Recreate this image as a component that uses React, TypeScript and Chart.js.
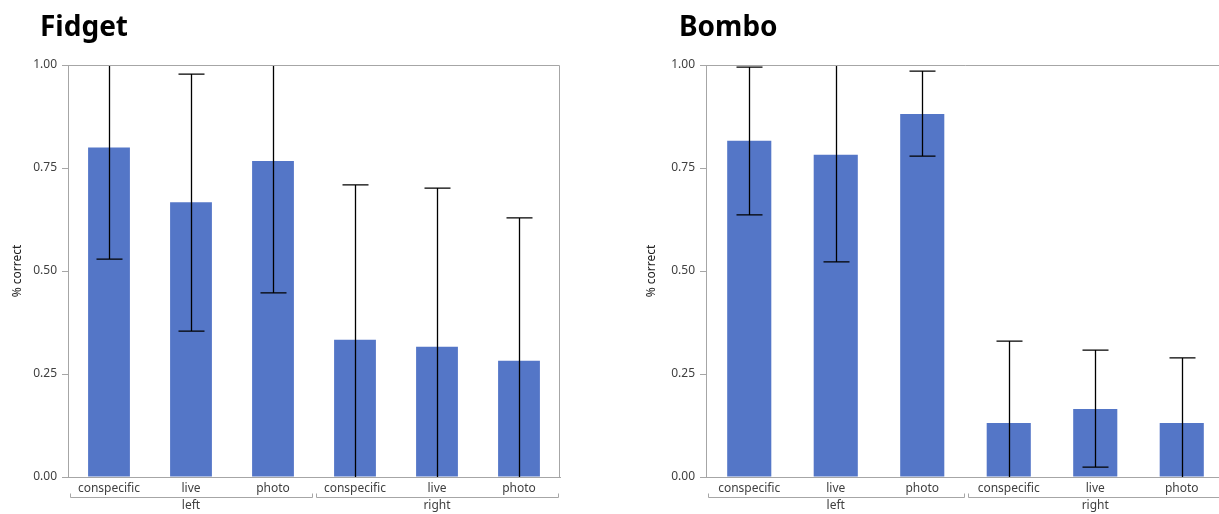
import React, { useEffect, useRef } from "react";
import { Chart, registerables } from "chart.js";

Chart.register(...registerables);

const categories = ["conspecific", "live", "photo", "conspecific", "live", "photo"];
const groups = ["left", "right"];
const yTickStep = 0.25;

const fidgetMeans = [0.8, 0.667, 0.767, 0.333, 0.316, 0.282];
const fidgetLow = [0.529, 0.354, 0.447, 0, 0, 0];
const fidgetHigh = [1.0, 0.978, 1.0, 0.709, 0.701, 0.629];

const bomboMeans = [0.816, 0.782, 0.881, 0.131, 0.165, 0.131];
const bomboLow = [0.636, 0.522, 0.779, 0, 0.024, 0];
const bomboHigh = [0.995, 1.0, 0.985, 0.33, 0.308, 0.289];

const FONT = "'Noto Sans', 'Open Sans', sans-serif";
const GREY = "#a6a6a6";
const TEXT = "#404040";
const BAR = "#5476C7";

const decorPlugin = {
  id: "decor",
  afterDatasetsDraw(chart: any, _args: any, opts: any) {
    const { ctx, chartArea: a, scales } = chart;
    const x = scales.x;
    const y = scales.y;
    const low: number[] = opts.low;
    const high: number[] = opts.high;
    ctx.save();
    ctx.beginPath();
    ctx.rect(a.left, a.top - 1, a.right - a.left, a.bottom - a.top + 1);
    ctx.clip();
    ctx.strokeStyle = "#000";
    ctx.lineWidth = 1.3;
    const capHalf = 13;
    for (let i = 0; i < low.length; i++) {
      const cx = Math.round(x.getPixelForValue(i)) + 0.5;
      const yl = y.getPixelForValue(low[i]);
      const yh = y.getPixelForValue(high[i]);
      ctx.beginPath();
      ctx.moveTo(cx, yl);
      ctx.lineTo(cx, yh);
      if (low[i] > 0 && low[i] < 1) {
        ctx.moveTo(cx - capHalf, yl);
        ctx.lineTo(cx + capHalf, yl);
      }
      if (high[i] > 0 && high[i] < 1) {
        ctx.moveTo(cx - capHalf, yh);
        ctx.lineTo(cx + capHalf, yh);
      }
      ctx.stroke();
    }
    ctx.restore();

    // frame (top and right)
    ctx.save();
    ctx.strokeStyle = GREY;
    ctx.lineWidth = 1;
    ctx.beginPath();
    ctx.moveTo(a.left, Math.round(a.top) + 0.5);
    ctx.lineTo(Math.round(a.right) - 0.5, Math.round(a.top) + 0.5);
    ctx.lineTo(Math.round(a.right) - 0.5, a.bottom);
    ctx.stroke();

    // group brackets
    const x2 = scales.x2;
    const by = Math.round(x2.top) + 0.5;
    const gw = (a.right - a.left) / groups.length;
    for (let g = 0; g < groups.length; g++) {
      const l = Math.round(a.left + g * gw + 2) + 0.5;
      const r = Math.round(a.left + (g + 1) * gw - 2) + 0.5;
      ctx.beginPath();
      ctx.moveTo(l, by - 4);
      ctx.lineTo(l, by);
      ctx.lineTo(r, by);
      ctx.lineTo(r, by - 4);
      ctx.stroke();
    }
    ctx.restore();
  },
};

function makeConfig(means: number[], low: number[], high: number[], titlePad: number, rightPad: number): any {
  return {
    type: "bar",
    data: {
      labels: categories,
      datasets: [
        {
          data: means,
          backgroundColor: BAR,
          borderWidth: 0,
          barPercentage: 0.51,
          categoryPercentage: 1,
        },
      ],
    },
    plugins: [decorPlugin],
    options: {
      responsive: false,
      animation: false,
      layout: { padding: { top: 65, right: rightPad, bottom: 0, left: 0 } },
      plugins: {
        legend: { display: false },
        tooltip: { enabled: false },
        decor: { low, high },
      },
      scales: {
        x: {
          type: "category",
          offset: true,
          grid: { display: false, drawTicks: false },
          border: { display: true, color: GREY, width: 1 },
          ticks: { padding: 4, maxRotation: 0, autoSkip: false, color: TEXT, font: { family: FONT, size: 12 } },
          afterFit: (s: any) => {
            s.height = 20;
          },
        },
        x2: {
          type: "category",
          position: "bottom",
          labels: groups,
          offset: true,
          grid: { display: false, drawTicks: false },
          border: { display: false },
          ticks: { padding: 1, maxRotation: 0, autoSkip: false, color: TEXT, font: { family: FONT, size: 12 } },
          afterFit: (s: any) => {
            s.height = 17;
          },
        },
        y: {
          min: 0,
          max: 1,
          grid: { display: true, drawOnChartArea: false, drawTicks: true, tickLength: 6, color: GREY },
          border: { display: true, color: GREY, width: 1 },
          ticks: {
            stepSize: yTickStep,
            padding: 5,
            color: TEXT,
            font: { family: FONT, size: 12 },
            callback: (v: any) => Number(v).toFixed(2),
          },
          title: {
            display: true,
            text: "% correct",
            color: "#222",
            padding: { top: titlePad, bottom: 0 },
            font: { family: FONT, size: 12 },
          },
          afterFit: (s: any) => {
            s.width = 68;
          },
        },
      },
    },
  };
}

function ChartBox(props: { left: number; width: number; titleLeft: number; title: string; means: number[]; low: number[]; high: number[]; titlePad: number; rightPad: number }) {
  const ref = useRef<HTMLCanvasElement | null>(null);
  useEffect(() => {
    if (!ref.current) return;
    const chart = new Chart(ref.current, makeConfig(props.means, props.low, props.high, props.titlePad, props.rightPad));
    return () => chart.destroy();
  }, []);
  return (
    <>
      <canvas
        ref={ref}
        width={props.width}
        height={514}
        style={{ position: "absolute", left: props.left, top: 0, width: props.width, height: 514 }}
      />
      <div
        style={{
          position: "absolute",
          left: props.titleLeft,
          top: 6,
          fontFamily: FONT,
          fontWeight: 700,
          fontSize: 28,
          lineHeight: "38px",
          color: "#000",
        }}
      >
        {props.title}
      </div>
    </>
  );
}

export default function App() {
  return (
    <div
      style={{
        position: "fixed",
        left: 0,
        top: 0,
        width: 1219,
        height: 514,
        overflow: "hidden",
        background: "#fff",
      }}
    >
      <ChartBox left={0} width={600} titleLeft={40} title="Fidget" means={fidgetMeans} low={fidgetLow} high={fidgetHigh} titlePad={10} rightPad={40} />
      <ChartBox left={638} width={600} titleLeft={679} title="Bombo" means={bomboMeans} low={bomboLow} high={bomboHigh} titlePad={6} rightPad={13} />
    </div>
  );
}
